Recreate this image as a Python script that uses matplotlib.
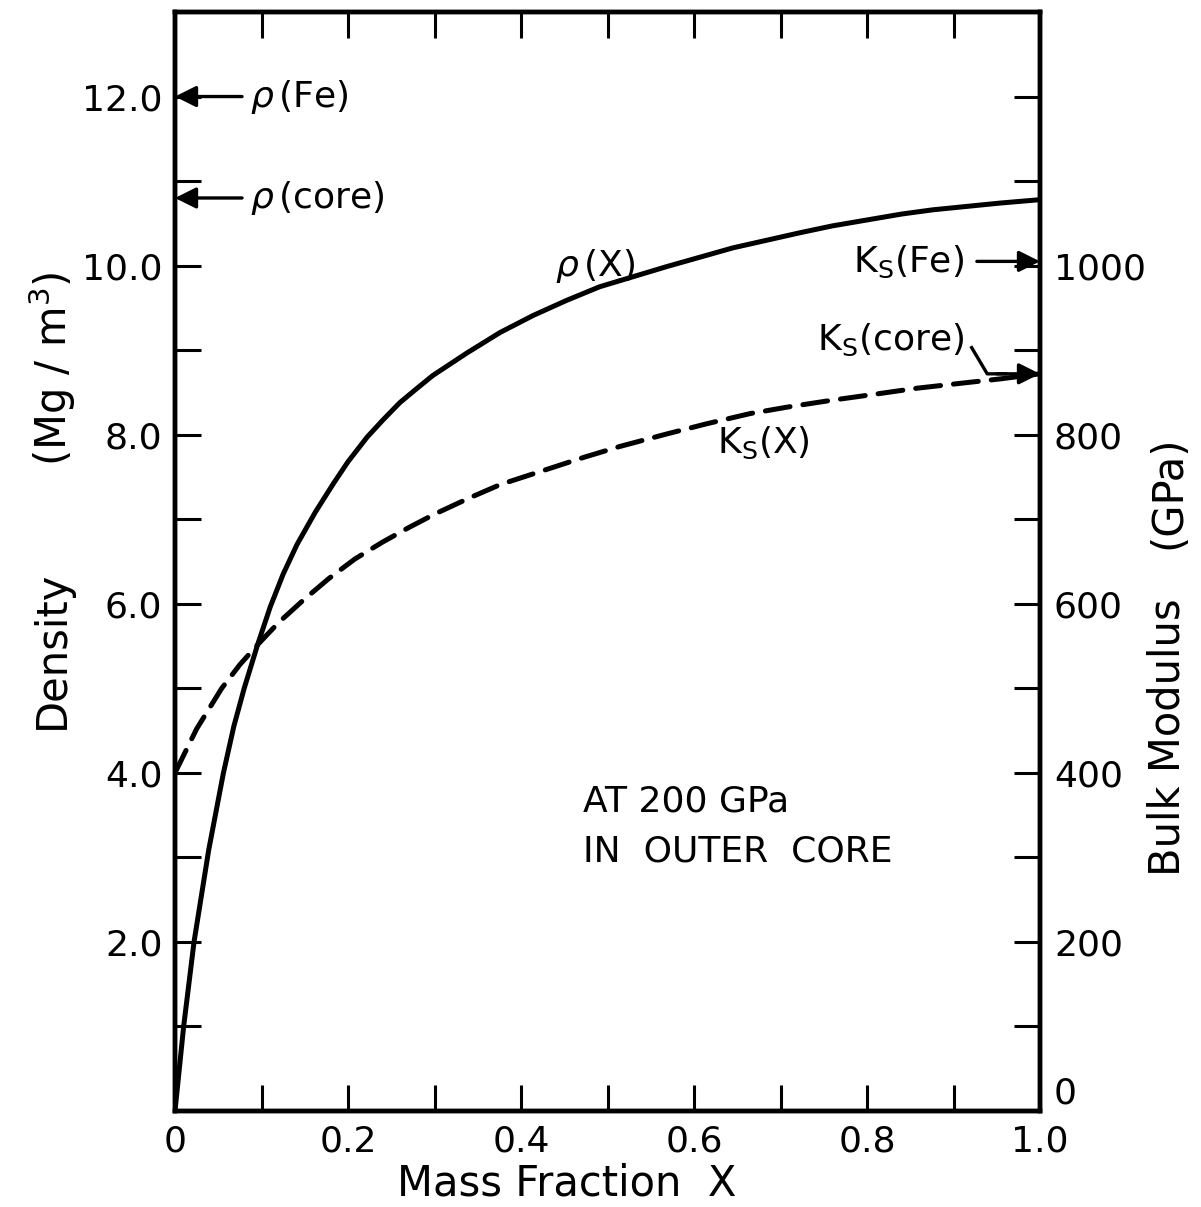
import numpy as np
import matplotlib
matplotlib.use("Agg")
import matplotlib.pyplot as plt
from matplotlib.lines import Line2D

plt.rcParams['font.family'] = ['DejaVu Sans']
plt.rcParams['mathtext.fontset'] = 'dejavusans'

# Density of the Fe-alloy mixture vs. mass fraction X (Mg/m^3)
x_rho = [0.0, 0.010, 0.022, 0.039, 0.056, 0.068, 0.080, 0.095, 0.110, 0.125,
         0.141, 0.162, 0.183, 0.200, 0.222, 0.240, 0.260, 0.280, 0.298, 0.338,
         0.376, 0.414, 0.453, 0.491, 0.530, 0.569, 0.607, 0.645, 0.684, 0.723,
         0.760, 0.800, 0.840, 0.876, 0.915, 0.954, 1.0]
rho = [0.0, 1.0, 2.0, 3.09, 4.0, 4.55, 5.0, 5.5, 5.96, 6.35,
       6.70, 7.08, 7.42, 7.68, 7.97, 8.17, 8.38, 8.55, 8.70, 8.97,
       9.21, 9.41, 9.59, 9.75, 9.87, 9.99, 10.10, 10.21, 10.30, 10.39,
       10.47, 10.54, 10.61, 10.66, 10.70, 10.74, 10.78]

# Adiabatic bulk modulus vs. mass fraction X (GPa)
x_ks = [0.0, 0.025, 0.054, 0.075, 0.095, 0.120, 0.148, 0.178, 0.208, 0.240,
        0.270, 0.300, 0.340, 0.376, 0.430, 0.472, 0.514, 0.569, 0.615, 0.665,
        0.710, 0.761, 0.810, 0.858, 0.910, 0.954, 1.0]
ks = [400, 452, 500, 528, 551, 578, 604, 630, 653, 673,
      690, 706, 725, 741, 759, 773, 786, 801, 813, 825,
      833, 841, 848, 855, 861, 866, 872]

# Reference values marked on the axes
rho_fe, rho_core = 12.0, 10.8
ks_fe, ks_core = 1005, 872

x_major = [0, 0.2, 0.4, 0.6, 0.8, 1.0]
x_labels = ['0', '0.2', '0.4', '0.6', '0.8', '1.0']
rho_major = [2, 4, 6, 8, 10, 12]
rho_labels = ['2.0', '4.0', '6.0', '8.0', '10.0', '12.0']
ks_major = [0, 200, 400, 600, 800, 1000, 1200]
ks_labels = ['0', '200', '400', '600', '800', '1000', '']

FS = 26
LFS = 30
fig = plt.figure(figsize=(12.01, 12.07), dpi=100)
ax = fig.add_axes([175/1201, 1 - 1111/1207, 865/1201, 1099/1207])
ax2 = ax.twinx()

ax.set_xlim(0, 1)
ax.set_ylim(0, 13)
ax2.set_ylim(0, 1300)

for a in (ax, ax2):
    for s in a.spines.values():
        s.set_linewidth(3.2)
    a.patch.set_visible(False)

ax.set_xticks(x_major)
ax.set_xticklabels(x_labels, fontsize=FS)
ax.set_xticks(np.arange(0.1, 1.0, 0.2), minor=True)
ax.set_yticks(rho_major)
ax.set_yticklabels(rho_labels, fontsize=FS)
ax.set_yticks(np.arange(1, 13, 2), minor=True)
ax2.set_yticks(ks_major)
ax2.set_yticklabels(ks_labels, fontsize=FS)
ax2.set_yticks(np.arange(100, 1300, 200), minor=True)
ax2.get_yticklabels()[0].set_va('bottom')

ax.tick_params(axis='x', which='both', direction='in', top=True, bottom=True,
               length=19, width=2.2, pad=10)
ax.tick_params(axis='y', which='both', direction='in', left=True, right=False,
               length=19, width=2.2, pad=9)
ax2.tick_params(axis='y', which='both', direction='in', left=False, right=True,
                length=19, width=2.2, pad=10)

ax.plot(x_rho, rho, color='black', lw=3.6, solid_capstyle='round',
        solid_joinstyle='round')
ax2.plot(x_ks, ks, color='black', lw=3.6, dashes=(5, 2.6), dash_capstyle='round')

arrow = dict(arrowstyle='-|>', lw=2.4, color='black', mutation_scale=32,
             shrinkA=0, shrinkB=0)

# density markers on the left axis
ax.annotate('', xy=(0, rho_fe), xytext=(0.0775, rho_fe), arrowprops=arrow)
ax.annotate('', xy=(0, rho_core), xytext=(0.0775, rho_core), arrowprops=arrow)
ax.text(0.087, rho_fe, r'$\rho\,$(Fe)', fontsize=FS, va='center', ha='left')
ax.text(0.087, rho_core, r'$\rho\,$(core)', fontsize=FS, va='center', ha='left')

# bulk modulus markers on the right axis
ax2.annotate('', xy=(1.0, ks_fe), xytext=(0.927, ks_fe), arrowprops=arrow)
ax2.text(0.912, ks_fe, r'K$_\mathregular{S}$(Fe)', fontsize=FS, va='center', ha='right')
ax2.add_line(Line2D([0.921, 0.939, 0.96], [903, ks_core, ks_core], color='black', lw=2.4))
ax2.annotate('', xy=(1.0, ks_core), xytext=(0.95, ks_core), arrowprops=arrow)
ax2.text(0.912, 912, r'K$_\mathregular{S}$(core)', fontsize=FS, va='center', ha='right')

# curve labels
ax.text(0.439, 10.0, r'$\rho\,$(X)', fontsize=FS, va='center', ha='left')
ax.text(0.627, 7.9, r'K$_\mathregular{S}$(X)', fontsize=FS, va='center', ha='left')

ax.text(0.472, 3.66, 'AT 200 GPa', fontsize=26, va='center', ha='left')
ax.text(0.472, 3.07, 'IN  OUTER  CORE', fontsize=26, va='center', ha='left')

# axis titles
fig.text(567/1201, 1 - 1183/1207, 'Mass Fraction  X', fontsize=LFS,
         ha='center', va='center')
fig.text(52/1201, 1 - 650/1207, 'Density', fontsize=LFS,
         rotation=90, ha='center', va='center')
fig.text(52/1201, 1 - 369/1207, r'(Mg / m$^3$)', fontsize=LFS,
         rotation=90, ha='center', va='center')
fig.text(1168/1201, 1 - 737/1207, 'Bulk Modulus', fontsize=LFS,
         rotation=90, ha='center', va='center')
fig.text(1168/1201, 1 - 492/1207, '(GPa)', fontsize=LFS,
         rotation=90, ha='center', va='center')

fig.savefig('out.png', dpi=100, facecolor='white')
